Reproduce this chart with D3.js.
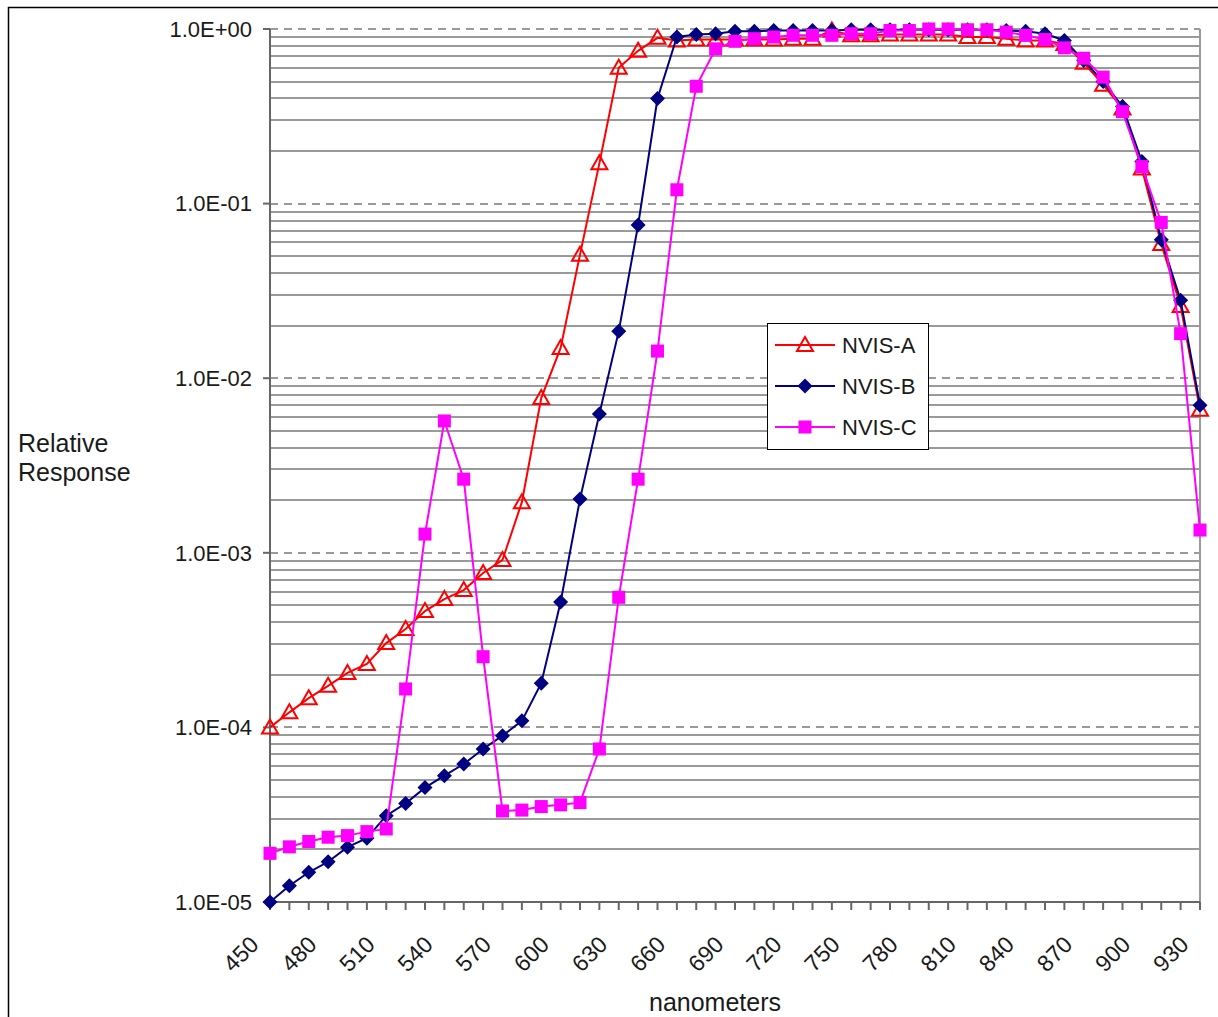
<!DOCTYPE html>
<meta charset="utf-8">
<style>

body {
  margin: 0;
  background: white;
}

text {
  font-family: "Liberation Sans", Arial, sans-serif;
  fill: #1a1a1a;
}

.grid .minor {
  stroke: #9a9a9a;
  stroke-width: 2px;
}

.grid .major {
  stroke: #9a9a9a;
  stroke-width: 2px;
  stroke-dasharray: 8px 6px;
}

.axis line {
  stroke: #666;
  stroke-width: 2px;
}

</style>
<svg></svg>
<script src="https://cdn.jsdelivr.net/npm/d3@7"></script>
<script>

var width = 1218;
var height = 1017;

var wavelengths = [450, 460, 470, 480, 490, 500, 510, 520, 530, 540, 550, 560, 570, 580, 590, 600,
  610, 620, 630, 640, 650, 660, 670, 680, 690, 700, 710, 720, 730, 740, 750, 760, 770, 780, 790,
  800, 810, 820, 830, 840, 850, 860, 870, 880, 890, 900, 910, 920, 930];

var nvisA = [1.0e-4, 1.22e-4, 1.47e-4, 1.73e-4, 2.05e-4, 2.31e-4, 3.04e-4, 3.66e-4, 4.64e-4, 5.43e-4,
  6.12e-4, 7.66e-4, 9.1e-4, 1.95e-3, 7.7e-3, 1.49e-2, 5.1e-2, 0.170, 0.60, 0.75, 0.89,
  0.86, 0.87, 0.87, 0.87, 0.87, 0.87, 0.88, 0.88, 0.98, 0.92, 0.92, 0.93, 0.93, 0.93,
  0.93, 0.90, 0.90, 0.88, 0.86, 0.86, 0.82, 0.64, 0.48, 0.35, 0.159, 0.0587, 0.0259, 0.0066];

var nvisB = [1.0e-5, 1.24e-5, 1.48e-5, 1.70e-5, 2.06e-5, 2.32e-5, 3.12e-5, 3.67e-5, 4.52e-5, 5.29e-5,
  6.17e-5, 7.52e-5, 8.97e-5, 1.09e-4, 1.79e-4, 5.23e-4, 2.03e-3, 6.24e-3, 1.86e-2, 7.54e-2, 0.40,
  0.90, 0.93, 0.94, 0.97, 0.97, 0.98, 0.98, 0.98, 0.98, 0.99, 0.99, 0.99, 0.99, 0.99,
  0.99, 0.99, 0.99, 0.98, 0.97, 0.94, 0.86, 0.66, 0.50, 0.36, 0.174, 0.062, 0.028, 0.0070];

var nvisC = [1.90e-5, 2.07e-5, 2.22e-5, 2.35e-5, 2.40e-5, 2.53e-5, 2.62e-5, 1.66e-4, 1.28e-3, 5.69e-3,
  2.64e-3, 2.54e-4, 3.32e-5, 3.36e-5, 3.52e-5, 3.60e-5, 3.71e-5, 7.52e-5, 5.56e-4, 2.64e-3, 1.43e-2,
  0.12, 0.47, 0.77, 0.85, 0.88, 0.90, 0.92, 0.92, 0.92, 0.94, 0.94, 0.98, 0.98, 1.0,
  1.0, 0.99, 0.99, 0.96, 0.92, 0.87, 0.78, 0.68, 0.53, 0.336, 0.163, 0.078, 0.018, 0.00135];

var seriesNames = ['NVIS-A', 'NVIS-B', 'NVIS-C'];
var seriesColors = ['#ff0000', '#000080', '#ff00ff'];
var seriesValues = [nvisA, nvisB, nvisC];

var plotLeft = 270, plotRight = 1200, plotTop = 29, plotBottom = 902;

var x = d3.scalePoint().domain(wavelengths).range([plotLeft, plotRight]);
var y = d3.scaleLog().domain([1e-5, 1]).range([plotBottom, plotTop]);

var svg = d3.select('svg')
  .attr('width', width)
  .attr('height', height);

// outer chart frame
svg.append('rect')
  .attr('x', 8.5).attr('y', 7.5)
  .attr('width', width + 10).attr('height', height + 10)
  .attr('fill', 'white')
  .attr('stroke', '#000')
  .attr('stroke-width', 1.5);

function isMajor(v) {
  return Math.abs(Math.log10(v) - Math.round(Math.log10(v))) < 1e-9;
}

function sciLabel(v) {
  var e = Math.round(Math.log10(v));
  return '1.0E' + (e < 0 ? '-' : '+') + String(Math.abs(e)).padStart(2, '0');
}

var yTicks = y.ticks();

var grid = svg.append('g').attr('class', 'grid');
grid.selectAll('line')
  .data(yTicks)
  .enter().append('line')
  .attr('class', function (d) { return isMajor(d) ? 'major' : 'minor'; })
  .attr('x1', plotLeft)
  .attr('x2', plotRight)
  .attr('y1', function (d) { return Math.round(y(d)); })
  .attr('y2', function (d) { return Math.round(y(d)); });

// right border of plot area
svg.append('line')
  .attr('x1', plotRight).attr('x2', plotRight)
  .attr('y1', plotTop).attr('y2', plotBottom)
  .attr('stroke', '#9a9a9a').attr('stroke-width', 2);

var axis = svg.append('g').attr('class', 'axis');

axis.append('line')
  .attr('x1', plotLeft).attr('x2', plotLeft)
  .attr('y1', plotTop).attr('y2', plotBottom);

axis.append('line')
  .attr('x1', plotLeft).attr('x2', plotRight)
  .attr('y1', plotBottom).attr('y2', plotBottom);

var yMajors = yTicks.filter(isMajor);

axis.selectAll('.ytick')
  .data(yMajors)
  .enter().append('line')
  .attr('class', 'ytick')
  .attr('x1', plotLeft - 7).attr('x2', plotLeft)
  .attr('y1', function (d) { return y(d); })
  .attr('y2', function (d) { return y(d); });

svg.append('g')
  .selectAll('text')
  .data(yMajors)
  .enter().append('text')
  .attr('x', 252)
  .attr('y', function (d) { return y(d); })
  .attr('dy', '0.35em')
  .attr('text-anchor', 'end')
  .style('font-size', '22px')
  .text(sciLabel);

axis.selectAll('.xtick')
  .data(wavelengths)
  .enter().append('line')
  .attr('class', 'xtick')
  .attr('x1', function (d) { return x(d); })
  .attr('x2', function (d) { return x(d); })
  .attr('y1', plotBottom)
  .attr('y2', plotBottom + 8);

svg.append('g')
  .selectAll('text')
  .data(wavelengths.filter(function (d, i) { return i % 3 === 0; }))
  .enter().append('text')
  .attr('transform', function (d) { return 'translate(' + (x(d) - 10) + ',946) rotate(-45)'; })
  .attr('text-anchor', 'end')
  .style('font-size', '23px')
  .text(function (d) { return d; });

// axis titles
svg.append('text')
  .attr('x', 18).attr('y', 452)
  .style('font-size', '25px')
  .text('Relative');
svg.append('text')
  .attr('x', 18).attr('y', 481)
  .style('font-size', '25px')
  .text('Response');

svg.append('text')
  .attr('x', 715).attr('y', 1011)
  .attr('text-anchor', 'middle')
  .style('font-size', '25px')
  .text('nanometers');

// markers
var triangle = 'M0,-8L8,6L-8,6Z';
var diamond = 'M0,-7.5L7.5,0L0,7.5L-7.5,0Z';
var square = 'M-6.5,-6.5H6.5V6.5H-6.5Z';
var markerPaths = [triangle, diamond, square];

function drawMarker(sel, k) {
  sel.append('path')
    .attr('d', markerPaths[k])
    .attr('fill', k === 0 ? 'none' : seriesColors[k])
    .attr('stroke', seriesColors[k])
    .attr('stroke-width', k === 0 ? 2 : 0);
}

var line = d3.line()
  .x(function (d, i) { return x(wavelengths[i]); })
  .y(function (d) { return y(d); });

seriesValues.forEach(function (vals, k) {
  var g = svg.append('g');
  g.append('path')
    .datum(vals)
    .attr('fill', 'none')
    .attr('stroke', seriesColors[k])
    .attr('stroke-width', 2)
    .attr('d', line);
  g.selectAll('g')
    .data(vals)
    .enter().append('g')
    .attr('transform', function (d, i) { return 'translate(' + x(wavelengths[i]) + ',' + y(d) + ')'; })
    .each(function () { drawMarker(d3.select(this), k); });
});

// legend
var legend = svg.append('g');
legend.append('rect')
  .attr('x', 767.5).attr('y', 323.5)
  .attr('width', 161).attr('height', 126)
  .attr('fill', 'white')
  .attr('stroke', '#000')
  .attr('stroke-width', 1);

seriesNames.forEach(function (name, k) {
  var ly = 345 + k * 41;
  legend.append('line')
    .attr('x1', 775).attr('x2', 835)
    .attr('y1', ly).attr('y2', ly)
    .attr('stroke', seriesColors[k])
    .attr('stroke-width', 2);
  drawMarker(legend.append('g').attr('transform', 'translate(805,' + ly + ')'), k);
  legend.append('text')
    .attr('x', 842).attr('y', ly)
    .attr('dy', '0.36em')
    .style('font-size', '22px')
    .text(name);
});

</script>
